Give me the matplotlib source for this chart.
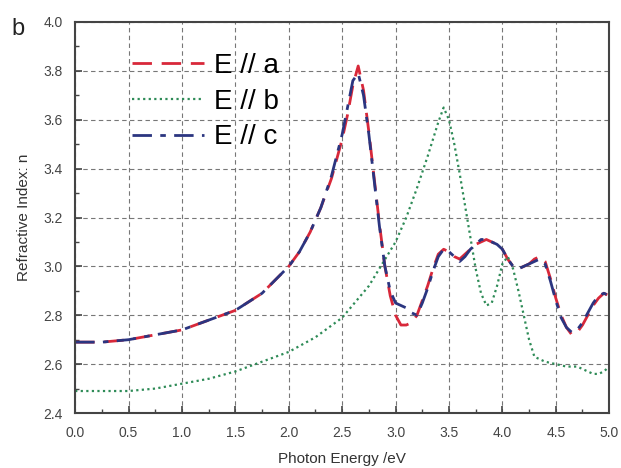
import numpy as np
import matplotlib
matplotlib.use("Agg")
import matplotlib.pyplot as plt
from matplotlib.ticker import MultipleLocator

plt.rcParams['font.family'] = ['Liberation Sans', 'DejaVu Sans']

# photon energy (eV) and refractive index
energy_ac = [0.0, 0.25, 0.5, 0.75, 1.0, 1.25, 1.5, 1.75, 2.0, 2.1, 2.2, 2.3, 2.4,
             2.5, 2.55, 2.6, 2.65, 2.7, 2.75, 2.8, 2.85, 2.9, 2.95, 3.0, 3.05, 3.1,
             3.15, 3.2, 3.25, 3.3, 3.35, 3.4, 3.45, 3.5, 3.55, 3.6, 3.65, 3.7, 3.75,
             3.8, 3.85, 3.9, 3.95, 4.0, 4.05, 4.1, 4.15, 4.2, 4.25, 4.3, 4.35, 4.4,
             4.45, 4.5, 4.55, 4.6, 4.65, 4.7, 4.75, 4.8, 4.85, 4.9, 4.95, 5.0]
n_a = [2.69, 2.69, 2.70, 2.72, 2.74, 2.78, 2.82, 2.89, 3.00, 3.06, 3.14, 3.24, 3.36,
       3.52, 3.62, 3.74, 3.82, 3.72, 3.55, 3.36, 3.17, 3.00, 2.88, 2.80, 2.76, 2.76,
       2.77, 2.80, 2.86, 2.92, 2.99, 3.05, 3.07, 3.06, 3.04, 3.03, 3.05, 3.07, 3.09,
       3.10, 3.11, 3.10, 3.09, 3.07, 3.03, 3.00, 2.99, 3.00, 3.01, 3.03, 3.04, 3.02,
       2.95, 2.87, 2.80, 2.75, 2.72, 2.73, 2.76, 2.80, 2.84, 2.87, 2.89, 2.88]
n_c = [2.69, 2.69, 2.70, 2.72, 2.74, 2.78, 2.82, 2.89, 3.00, 3.06, 3.14, 3.24, 3.37,
       3.54, 3.65, 3.76, 3.79, 3.70, 3.54, 3.35, 3.16, 3.00, 2.90, 2.85, 2.84, 2.83,
       2.81, 2.80, 2.85, 2.91, 2.98, 3.04, 3.07, 3.06, 3.04, 3.02, 3.04, 3.07, 3.09,
       3.11, 3.11, 3.10, 3.09, 3.07, 3.03, 3.00, 2.99, 3.00, 3.01, 3.02, 3.03, 3.01,
       2.94, 2.86, 2.79, 2.75, 2.73, 2.74, 2.77, 2.81, 2.85, 2.88, 2.89, 2.88]

energy_b = [0.0, 0.25, 0.5, 0.75, 1.0, 1.25, 1.5, 1.75, 2.0, 2.25, 2.5, 2.75, 3.0,
            3.1, 3.2, 3.3, 3.4, 3.45, 3.5, 3.55, 3.6, 3.65, 3.7, 3.75, 3.8, 3.85,
            3.9, 3.95, 4.0, 4.05, 4.1, 4.15, 4.2, 4.25, 4.3, 4.4, 4.5, 4.6, 4.7,
            4.75, 4.8, 4.85, 4.9, 4.95, 5.0]
n_b = [2.49, 2.49, 2.49, 2.50, 2.52, 2.54, 2.57, 2.61, 2.65, 2.71, 2.79, 2.92, 3.10,
       3.20, 3.32, 3.45, 3.59, 3.65, 3.60, 3.50, 3.38, 3.25, 3.12, 2.99, 2.89, 2.84,
       2.85, 2.92, 3.01, 3.04, 2.99, 2.90, 2.80, 2.70, 2.63, 2.61, 2.60, 2.59, 2.59,
       2.58, 2.57, 2.56, 2.56, 2.57, 2.59]

labels = ["E // a", "E // b", "E // c"]

fig = plt.figure(figsize=(6.21, 4.68), dpi=100)
ax = fig.add_axes([0.121, 0.1175, 0.86, 0.8355])

ax.plot(energy_ac, n_a, color="#d8283a", lw=2.0, dashes=(7, 3.5), label=labels[0])
ax.plot(energy_b, n_b, color="#2e8b57", lw=1.6, linestyle=(0, (1, 1.5)), label=labels[1])
ax.plot(energy_ac, n_c, color="#2b3580", lw=2.0, dashes=(7, 3, 2, 3), label=labels[2])

ax.set_xlim(0, 5)
ax.set_ylim(2.4, 4.0)
ax.xaxis.set_major_locator(MultipleLocator(0.5))
ax.xaxis.set_minor_locator(MultipleLocator(0.25))
ax.yaxis.set_major_locator(MultipleLocator(0.2))
ax.yaxis.set_minor_locator(MultipleLocator(0.1))
ax.xaxis.set_major_formatter(matplotlib.ticker.FormatStrFormatter("%.1f"))
ax.yaxis.set_major_formatter(matplotlib.ticker.FormatStrFormatter("%.1f"))
ax.tick_params(which="both", direction="in", colors="#444444", labelsize=10)
ax.tick_params(which="major", length=5, width=1.2, pad=9)
ax.tick_params(which="minor", length=3, width=1.0)
ax.grid(True, which="major", color="#777777", linestyle=(0, (4, 3)), lw=0.8)
for s in ax.spines.values():
    s.set_color("#444444")
    s.set_linewidth(1.5)

ax.set_xlabel("Photon Energy /eV", fontsize=11, color="#333333", labelpad=9)
ax.set_ylabel("Refractive Index: n", fontsize=11, color="#333333", labelpad=9)
fig.text(0.018, 0.925, "b", fontsize=17, color="#222222")

ax.legend(loc="upper left", bbox_to_anchor=(0.059, 0.985), frameon=False,
          fontsize=20, handlelength=2.6, handletextpad=0.35, labelspacing=0.35)

fig.savefig("out.png", dpi=100)
